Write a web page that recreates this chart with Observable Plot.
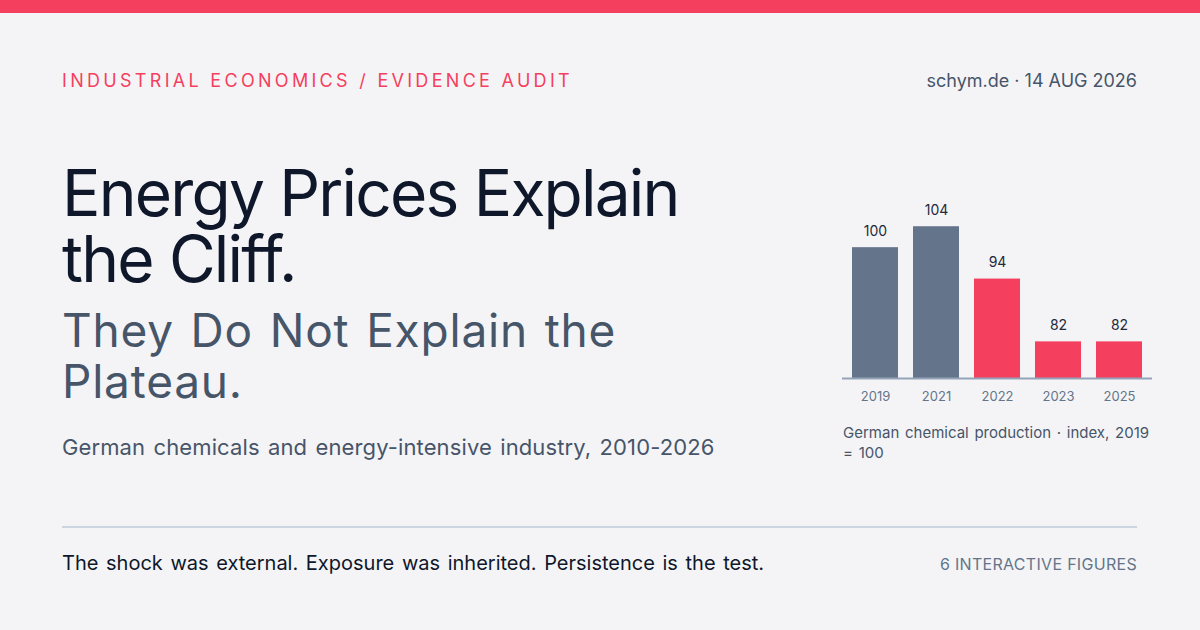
<!DOCTYPE html>
<html>
<head>
<meta charset="utf-8">
<script src="https://cdn.jsdelivr.net/npm/d3@7"></script>
<script src="https://cdn.jsdelivr.net/npm/@observablehq/plot@0.6"></script>
<style>
  html, body { margin:0; padding:0; }
  body { width:1200px; height:630px; background:#f4f4f6; position:relative; overflow:hidden; font-family: Inter, "Noto Sans", sans-serif; }
  .abs { position:absolute; white-space:nowrap; }
  #topbar { position:absolute; left:0; top:0; width:1200px; height:13px; background:#f43f5e; }
  #kicker { left:62px; top:72px; font-size:18px; line-height:18px; letter-spacing:3.3px; color:#f43f5e; }
  #meta { right:63px; top:72px; font-size:18px; line-height:18px; color:#475569; }
  #title { left:62px; top:160px; font-size:64px; line-height:66px; color:#0f172a; white-space:normal; width:700px; letter-spacing:-1.8px; }
  #subtitle { left:62px; top:305px; font-size:46px; line-height:51px; color:#475569; white-space:normal; width:600px; letter-spacing:0.8px; word-spacing:3px; }
  #desc { left:62px; top:434px; font-size:22px; line-height:26px; color:#475569; letter-spacing:0.12px; word-spacing:2px; }
  #divider { position:absolute; left:62px; top:526px; width:1075px; height:2px; background:#cbd5e1; }
  #footer { left:62px; top:553px; font-size:20px; line-height:20px; color:#0f172a; word-spacing:2px; }
  #figs { right:63px; top:556px; font-size:16px; line-height:16px; color:#64748b; letter-spacing:0.3px; }
  #chart { position:absolute; left:830px; top:190px; }
  #caption { left:843px; top:423px; font-size:15px; line-height:20px; color:#475569; white-space:normal; width:312px; word-spacing:1.5px; }
</style>
</head>
<body>
<div id="topbar"></div>
<div class="abs" id="kicker">INDUSTRIAL ECONOMICS / EVIDENCE AUDIT</div>
<div class="abs" id="meta">schym.de · 14 AUG 2026</div>
<div class="abs" id="title">Energy Prices Explain the Cliff.</div>
<div class="abs" id="subtitle">They Do Not Explain the Plateau.</div>
<div class="abs" id="desc">German chemicals and energy-intensive industry, 2010-2026</div>
<div id="chart"></div>
<div class="abs" id="caption">German chemical production · index, 2019 = 100</div>
<div id="divider"></div>
<div class="abs" id="footer">The shock was external. Exposure was inherited. Persistence is the test.</div>
<div class="abs" id="figs">6 INTERACTIVE FIGURES</div>
<script>
const years = ["2019", "2021", "2022", "2023", "2025"];
const values = [100, 104, 94, 82, 82];
const phases = ["pre", "pre", "shock", "shock", "shock"];

const data = years.map((y, i) => ({year: y, value: values[i], phase: phases[i]}));
const yMin = 75;

const chart = Plot.plot({
  width: 330,
  height: 220,
  marginLeft: 22,
  marginRight: 18,
  marginTop: 31,
  marginBottom: 32,
  x: {domain: years, paddingInner: 0.246, paddingOuter: 0, label: null},
  y: {domain: [yMin, 105], axis: null},
  color: {domain: ["pre", "shock"], range: ["#64748b", "#f43f5e"]},
  style: {background: "transparent", fontFamily: "Inter, sans-serif", overflow: "visible"},
  marks: [
    Plot.barY(data, {x: "year", y1: yMin, y2: "value", fill: "phase"}),
    Plot.ruleY([yMin], {stroke: "#94a3b8", strokeWidth: 2, insetLeft: -10, insetRight: -10}),
    Plot.text(data, {x: "year", y: "value", text: d => String(d.value), dy: -12, lineAnchor: "bottom", fontSize: 14, fill: "#1e293b"}),
    Plot.axisX({tickSize: 0, tickPadding: 13, fontSize: 13, color: "#64748b", label: null})
  ]
});
document.getElementById("chart").appendChild(chart);
</script>
</body>
</html>
